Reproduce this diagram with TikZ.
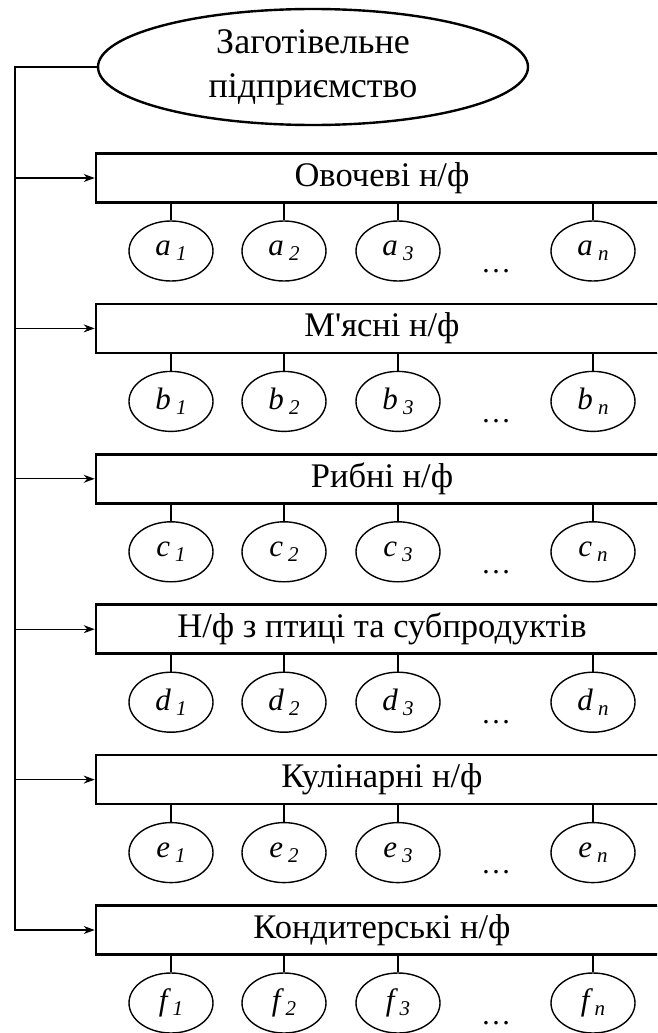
\documentclass[tikz,border=0pt]{standalone}
\usepackage{fontspec}
\setmainfont{Liberation Serif}[Ligatures=TeXOff]
\usetikzlibrary{shapes.geometric,arrows.meta,calc}
\newcommand\itemlbl[2]{#1\,\raisebox{-5pt}{\fontsize{21}{21}\selectfont #2}}
\begin{document}
\begin{tikzpicture}[x=1pt,y=-1pt,
  topell/.style={ellipse, draw, line width=2.4pt, minimum width=430pt, minimum height=116pt, inner sep=0pt, align=center, font=\fontsize{36}{44}\selectfont},
  catbox/.style={draw, line width=2.6pt, minimum width=572pt, minimum height=49pt, inner sep=0pt, font=\fontsize{34.5}{40}\selectfont},
  item/.style={ellipse, draw, line width=1.4pt, minimum width=84pt, minimum height=60pt, inner sep=0pt, font=\fontsize{31}{31}\selectfont\itshape},
  feed/.style={line width=1.3pt, -{Stealth[length=11pt,width=8pt]}},
  link/.style={line width=1.3pt},
  dotsnode/.style={font=\fontsize{30}{30}\selectfont, inner sep=0pt}
]
\useasboundingbox (0,0) rectangle (657,1033);
\clip (0,0) rectangle (657,1033);

\node[topell] (top) at (313,67) {Заготівельне\\підприємство};

\node[catbox] (r1) at (382,178) {Овочеві н/ф};
\node[catbox] (r2) at (382,328.4) {М'ясні н/ф};
\node[catbox] (r3) at (382,478.8) {Рибні н/ф};
\node[catbox] (r4) at (382,629.2) {Н/ф з птиці та субпродуктів};
\node[catbox] (r5) at (382,779.6) {Кулінарні н/ф};
\node[catbox] (r6) at (382,930) {Кондитерські н/ф};

\coordinate (trunk) at (15,65);
\draw[feed] (top.west) -| (trunk |- r6.west) -- (r6.west);
\foreach \i in {1,...,5} {
  \draw[feed] (trunk |- r\i.west) -- (r\i.west);
}

\foreach \l [count=\i] in {a,b,c,d,e,f} {
  \pgfmathsetmacro\yc{178+150.4*(\i-1)+73}
  \pgfmathsetmacro\yd{178+150.4*(\i-1)+93}
  \node[item] (\l1) at (171,\yc) {\itemlbl{\l}{1}};
  \node[item] (\l2) at (284,\yc) {\itemlbl{\l}{2}};
  \node[item] (\l3) at (398,\yc) {\itemlbl{\l}{3}};
  \node[item] (\l n) at (593,\yc) {\itemlbl{\l}{n}};
  \node[dotsnode] (\l dots) at (496,\yd) {…};
  \draw[link] (\l1.north) -- (\l1.north |- r\i.south);
  \draw[link] (\l2.north) -- (\l2.north |- r\i.south);
  \draw[link] (\l3.north) -- (\l3.north |- r\i.south);
  \draw[link] (\l n.north) -- (\l n.north |- r\i.south);
}
\end{tikzpicture}
\end{document}
